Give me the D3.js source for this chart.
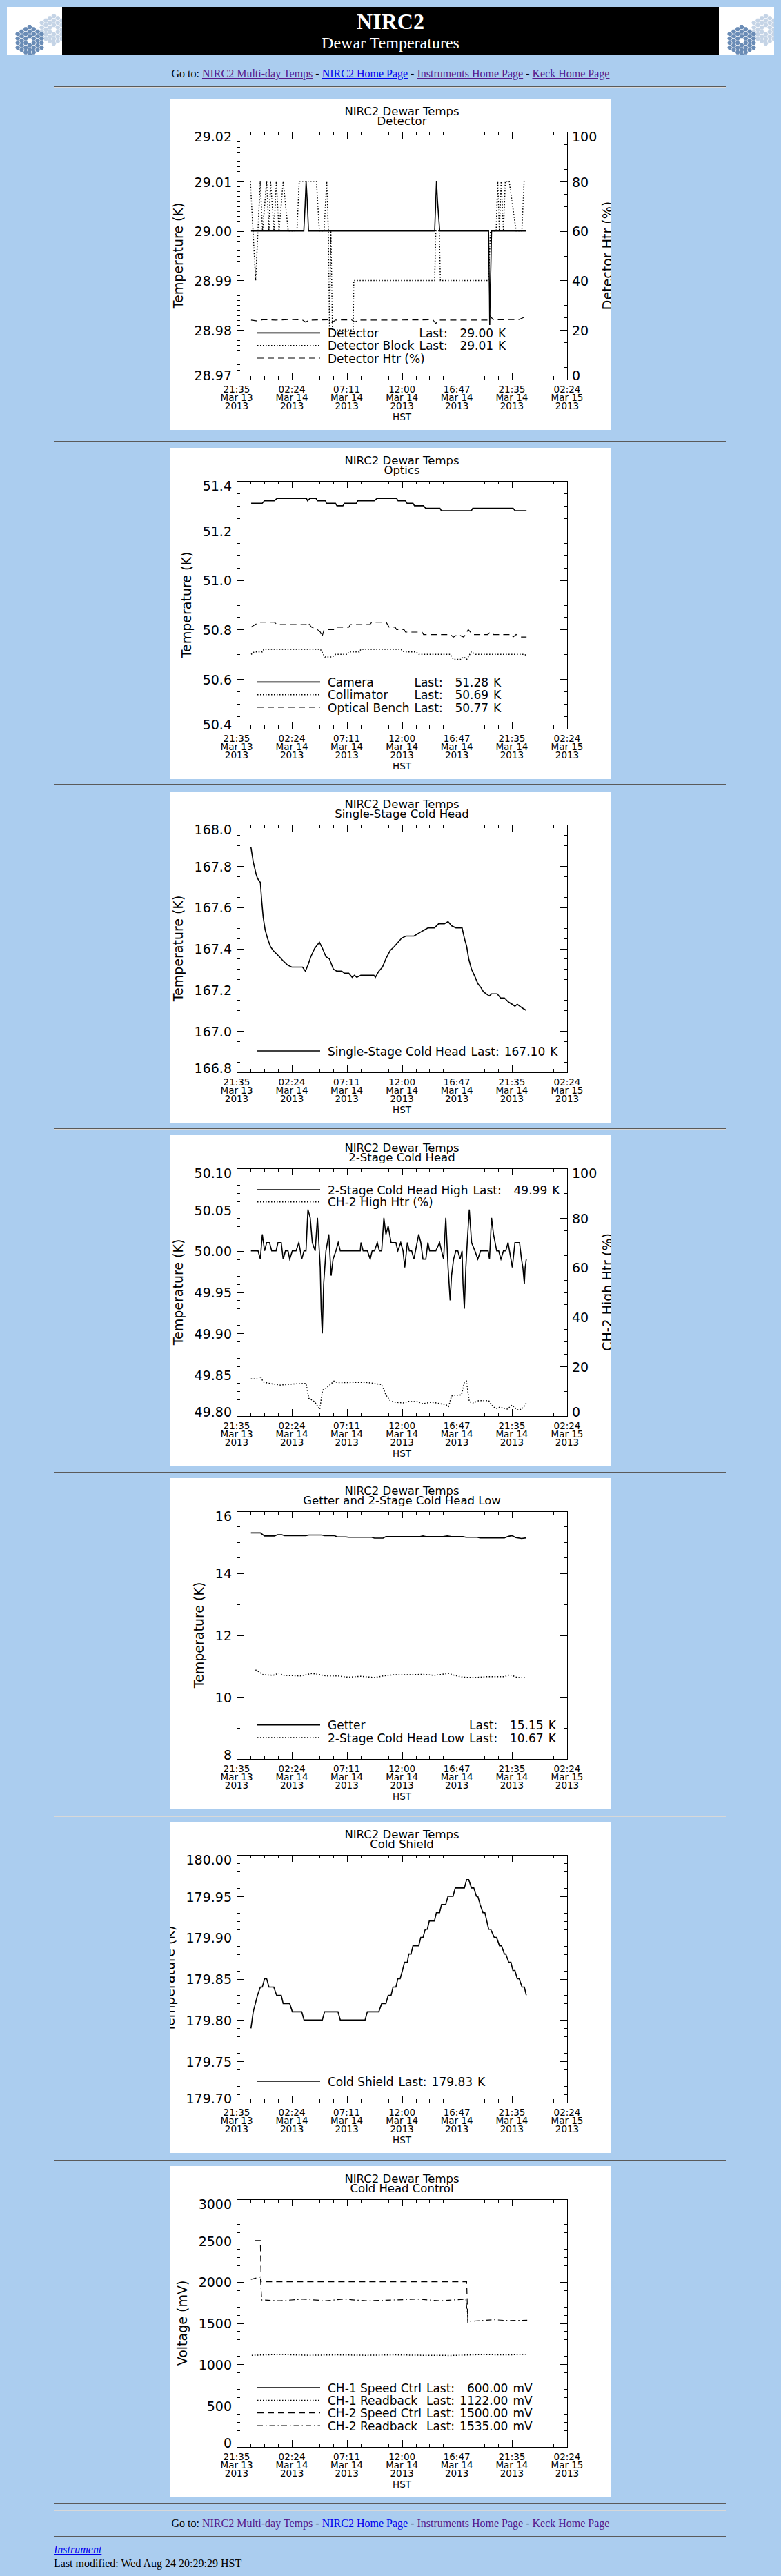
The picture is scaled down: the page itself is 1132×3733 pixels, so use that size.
<!DOCTYPE html>
<html lang="en">
<head>
<meta charset="utf-8">
<title>NIRC2 Dewar Temperatures</title>
<script src="https://cdn.jsdelivr.net/npm/d3@7"></script>
<style>
  body { margin: 0; background: #abcdef; font-family: "Liberation Serif", "Times New Roman", serif; font-size: 16px; color: #000; }
  #page { position: relative; width: 1132px; height: 3733px; overflow: hidden; }
  #page > * { position: absolute; }
  #banner { left: 10px; top: 10px; width: 1112px; height: 69px; }
  #banner .logo { position: absolute; top: 0; }
  #banner .mid { position: absolute; left: 80px; top: 0; width: 952px; height: 69px; background: #000; color: #fff; }
  #banner .t1 { position: absolute; left: 0; right: 0; top: 5px; text-align: center; font-weight: bold; font-size: 32px; line-height: 32px; }
  #banner .t2 { position: absolute; left: 0; right: 0; top: 40px; text-align: center; font-size: 24px; line-height: 24px; }
  .nav { left: 0; width: 1132px; text-align: center; line-height: 18px; }
  hr { left: 78px; width: 975px; margin: 0; height: 0; border: 0; border-top: 1px solid #5a5a5a; border-bottom: 1px solid #d8d8d8; }
  a { color: #0000ee; }
  a.seen { color: #551a8b; }
  .foot { left: 78px; line-height: 18px; }
  svg.panel text { font-family: "DejaVu Sans", "Liberation Sans", sans-serif; fill: #000; }
</style>
</head>
<body>
<div id="page">
  <div id="banner">
    <div class="logo" style="left:0"></div>
    <div class="mid"><div class="t1">NIRC2</div><div class="t2">Dewar Temperatures</div></div>
    <div class="logo" style="left:1032px"></div>
  </div>
  <div class="nav" style="top:98px">Go to: <a class="seen" href="#">NIRC2 Multi-day Temps</a> - <a href="#">NIRC2 Home Page</a> - <a class="seen" href="#">Instruments Home Page</a> - <a class="seen" href="#">Keck Home Page</a></div>
  <hr style="top:125px">
  <hr style="top:639px">
  <hr style="top:1136px">
  <hr style="top:1635px">
  <hr style="top:2133px">
  <hr style="top:2631px">
  <hr style="top:3130px">
  <hr style="top:3627px">
  <hr style="top:3637px">
  <div class="nav" style="top:3648px">Go to: <a class="seen" href="#">NIRC2 Multi-day Temps</a> - <a href="#">NIRC2 Home Page</a> - <a class="seen" href="#">Instruments Home Page</a> - <a class="seen" href="#">Keck Home Page</a></div>
  <hr style="top:3675px">
  <div class="foot" style="top:3686px"><a href="#"><i>Instrument</i></a></div>
  <div class="foot" style="top:3706px">Last modified: Wed Aug 24 20:29:29 HST</div>
</div>
<script>
// time axis labels (HST)
var tickTimes = ['21:35', '02:24', '07:11', '12:00', '16:47', '21:35', '02:24'];
var tickDays = ['Mar 13', 'Mar 14', 'Mar 14', 'Mar 14', 'Mar 14', 'Mar 14', 'Mar 15'];
var tickYears = ['2013', '2013', '2013', '2013', '2013', '2013', '2013'];

// samples are [hours after 2013-03-13 00:00 HST, value]

// Detector
var detectorT = [[22.84,29.00],[27.44,29.00],[27.55,29.005],[27.64,29.01],[27.74,29.006],[27.85,29.00],
  [38.85,29.00],[38.93,29.005],[39.01,29.01],[39.10,29.006],[39.29,29.00],
  [43.55,29.00],[43.59,28.993],[43.63,28.987],[43.65,28.981],[43.69,28.987],[43.75,28.993],[43.81,29.00],[46.85,29.00]];
var detectorBlockT = [[22.78,29.01],[23.24,28.99],[23.64,29.01],[23.84,29.00],[24.20,29.01],[24.40,29.00],[24.54,29.01],
  [24.84,29.00],[25.04,29.01],[25.28,29.00],[25.64,29.01],[26.08,29.00],[26.84,29.00],[27.04,29.01],[28.54,29.01],
  [28.80,29.00],[29.20,29.00],[29.44,29.01],[29.58,29.00],[29.68,28.98],[29.80,29.00],[29.94,28.98],[31.74,28.98],
  [31.80,28.99],[38.85,28.99],[38.95,29.00],[39.25,29.00],[39.35,28.99],[43.55,28.99],[43.71,29.00],[44.21,29.00],
  [44.35,29.01],[44.49,29.00],[44.65,29.01],[44.85,29.00],[45.01,29.01],[45.35,29.01],[45.95,29.00],[46.45,29.00],
  [46.65,29.01],[46.75,29.01]];
var detectorHtr = [[22.84,24.0],[23.4,23.6],[23.9,24.2],[25.0,24.0],[26.2,24.2],[27.3,24.1],[27.6,23.2],[27.9,24.0],
  [29.6,24.1],[29.9,23.0],[30.2,24.0],[31.6,24.1],[31.9,23.2],[32.2,24.0],[35.0,24.0],[38.7,24.1],[38.95,22.6],
  [39.2,24.0],[43.5,24.0],[43.7,25.6],[43.95,24.1],[46.2,24.2],[46.7,25.2]];
var detectorTicks = [28.97, 28.98, 28.99, 29.00, 29.01, 29.02];

// Optics
var cameraT = [[22.85,51.31],[23.82,51.31],[24.00,51.32],[24.86,51.32],[25.12,51.33],[27.67,51.33],[27.77,51.32],
  [27.98,51.33],[28.50,51.33],[28.63,51.32],[29.34,51.32],[29.41,51.31],[30.20,51.31],[30.33,51.30],[30.85,51.30],
  [30.98,51.31],[32.02,51.31],[32.15,51.32],[33.58,51.32],[33.84,51.33],[35.53,51.33],[35.66,51.32],[36.31,51.32],
  [36.44,51.31],[36.96,51.31],[37.09,51.30],[37.88,51.30],[38.06,51.29],[39.31,51.29],[39.44,51.28],[42.04,51.28],
  [42.17,51.29],[45.69,51.29],[45.87,51.28],[46.86,51.28]];
var collimatorT = [[22.85,50.70],[23.11,50.71],[23.82,50.71],[23.95,50.72],[28.89,50.72],[29.28,50.69],[29.94,50.69],
  [30.20,50.70],[31.24,50.70],[31.37,50.71],[32.28,50.71],[32.41,50.72],[35.92,50.72],[36.18,50.71],[37.22,50.71],
  [37.49,50.70],[40.22,50.70],[40.48,50.68],[41.13,50.68],[41.39,50.69],[41.65,50.68],[42.04,50.71],[42.43,50.70],
  [46.73,50.70],[46.86,50.69]];
var benchT = [[22.85,50.81],[23.17,50.82],[23.56,50.83],[24.86,50.83],[25.12,50.82],[27.59,50.82],[27.77,50.83],
  [28.11,50.81],[28.63,50.80],[28.89,50.79],[29.02,50.77],[29.21,50.80],[30.20,50.80],[30.33,50.81],[31.37,50.81],
  [31.50,50.82],[33.19,50.82],[33.37,50.83],[34.62,50.83],[34.88,50.81],[35.40,50.81],[35.53,50.80],[36.18,50.80],
  [36.31,50.79],[37.75,50.79],[37.88,50.78],[40.22,50.78],[40.48,50.77],[40.87,50.78],[41.39,50.77],[41.78,50.80],
  [42.17,50.78],[43.47,50.78],[43.73,50.79],[43.99,50.78],[45.56,50.78],[45.69,50.77],[45.95,50.78],[46.34,50.77],
  [46.86,50.77]];
var opticsTicks = [50.4, 50.6, 50.8, 51.0, 51.2, 51.4];

// Single-stage cold head
var singleStageT = [[22.83,167.89],[23.03,167.82],[23.28,167.76],[23.40,167.74],[23.65,167.72],[23.77,167.63],
  [23.90,167.55],[24.07,167.49],[24.27,167.45],[24.52,167.41],[24.77,167.39],[25.14,167.37],[25.64,167.34],
  [26.01,167.32],[26.39,167.31],[27.33,167.31],[27.58,167.29],[27.80,167.32],[28.05,167.36],[28.38,167.40],
  [28.80,167.43],[29.07,167.40],[29.37,167.36],[29.67,167.35],[30.02,167.30],[30.32,167.29],[30.74,167.29],
  [30.99,167.28],[31.36,167.28],[31.66,167.26],[31.86,167.27],[32.06,167.26],[32.41,167.27],[33.55,167.27],
  [33.68,167.26],[33.98,167.29],[34.30,167.31],[34.60,167.35],[34.97,167.39],[35.34,167.41],[35.97,167.45],
  [36.34,167.46],[37.04,167.46],[37.34,167.47],[37.63,167.48],[37.96,167.49],[38.28,167.50],[38.83,167.50],
  [39.20,167.52],[39.70,167.52],[40.02,167.53],[40.32,167.51],[40.70,167.50],[41.24,167.50],[41.44,167.45],
  [41.64,167.41],[41.82,167.35],[42.06,167.30],[42.39,167.26],[42.61,167.23],[42.89,167.21],[43.11,167.19],
  [43.36,167.18],[43.61,167.17],[43.81,167.18],[44.30,167.18],[44.60,167.16],[44.93,167.16],[45.30,167.14],
  [45.60,167.13],[45.85,167.12],[46.05,167.13],[46.29,167.12],[46.54,167.11],[46.84,167.10]];
var singleStageTicks = [166.8, 167.0, 167.2, 167.4, 167.6, 167.8, 168.0];

// 2-stage cold head
var twoStageHighT = [[22.83,50.00],[23.45,50.00],[23.65,49.99],[23.82,50.02],[24.02,50.00],[24.20,50.01],[24.45,50.01],
  [24.64,50.00],[25.02,50.00],[25.19,50.01],[25.47,50.01],[25.64,49.99],[25.84,50.00],[26.06,50.00],[26.21,49.99],
  [26.44,50.00],[26.76,50.00],[27.01,50.01],[27.26,49.99],[27.46,50.00],[27.63,50.00],[27.80,50.05],[28.00,50.04],
  [28.18,50.01],[28.43,50.00],[28.63,50.04],[28.75,50.01],[28.87,49.98],[28.95,49.93],[29.05,49.90],[29.17,49.96],
  [29.37,50.00],[29.50,50.01],[29.62,50.02],[29.82,49.97],[29.99,49.99],[30.24,50.00],[30.44,50.01],[30.62,50.00],
  [32.36,50.00],[32.43,50.01],[32.61,50.00],[32.98,50.00],[33.23,49.99],[33.40,50.00],[33.60,50.00],[33.85,50.01],
  [34.03,50.00],[34.23,50.00],[34.42,50.04],[34.60,50.02],[34.80,50.03],[35.05,50.01],[35.47,50.01],[35.64,50.00],
  [35.89,50.01],[36.09,50.00],[36.24,49.98],[36.47,50.01],[36.64,50.00],[36.84,50.00],[37.04,49.99],[37.46,50.02],
  [37.64,50.01],[37.83,49.99],[38.08,49.99],[38.26,50.01],[38.41,50.00],[38.95,50.00],[39.28,50.01],[39.45,50.00],
  [39.63,49.99],[39.82,50.04],[40.02,49.98],[40.20,49.94],[40.32,49.97],[40.50,49.99],[40.70,50.00],[40.87,50.00],
  [41.07,49.99],[41.24,50.00],[41.32,49.96],[41.44,49.93],[41.57,49.98],[41.69,50.01],[41.87,50.05],[42.07,50.01],
  [42.36,50.00],[42.61,49.99],[42.86,50.00],[43.51,50.00],[43.63,49.99],[43.81,50.04],[43.98,50.02],[44.26,50.00],
  [44.43,50.00],[44.63,49.99],[44.85,50.00],[45.05,50.00],[45.25,50.01],[45.50,49.99],[45.62,49.98],[45.85,50.01],
  [46.25,50.01],[46.42,49.99],[46.54,49.98],[46.67,49.96],[46.74,49.98],[46.84,49.99]];
var ch2HighHtr = [[22.83,15.0],[23.35,15.0],[23.65,16.0],[23.90,13.8],[24.40,13.2],[25.39,12.5],[26.39,12.9],
  [27.63,13.2],[27.88,7.1],[28.38,5.8],[28.83,2.7],[29.07,10.4],[29.37,11.3],[29.75,12.7],[30.07,14.1],[30.37,13.5],
  [32.86,13.6],[34.23,12.7],[34.60,8.5],[34.97,6.2],[35.34,5.6],[36.09,5.3],[36.59,5.9],[37.34,5.8],[37.83,5.0],
  [38.58,5.6],[39.33,5.0],[39.82,4.6],[40.07,3.9],[40.32,8.1],[40.57,8.4],[41.19,8.5],[41.44,13.6],[41.62,14.1],
  [41.87,5.8],[42.19,5.3],[42.69,6.2],[43.56,6.2],[43.93,3.9],[44.18,3.0],[44.55,3.6],[45.18,2.8],[45.60,4.4],
  [46.05,2.5],[46.29,2.5],[46.59,3.4],[46.84,5.3]];
var twoStageTicks = [49.80, 49.85, 49.90, 49.95, 50.00, 50.05, 50.10];

// Getter and 2-stage cold head low
var getterT = [[22.83,15.30],[23.65,15.30],[24.02,15.20],[24.89,15.20],[25.14,15.24],[25.52,15.24],[25.76,15.21],
  [27.63,15.21],[27.88,15.23],[29.00,15.23],[29.25,15.21],[30.12,15.21],[30.37,15.17],[31.11,15.17],[31.36,15.16],
  [33.35,15.16],[33.60,15.13],[34.35,15.13],[34.60,15.18],[37.58,15.18],[37.83,15.20],[38.08,15.18],[39.58,15.18],
  [39.95,15.20],[40.32,15.18],[41.32,15.18],[41.57,15.16],[42.56,15.16],[42.81,15.14],[44.93,15.14],[45.30,15.19],
  [45.60,15.21],[45.92,15.15],[46.42,15.12],[46.84,15.14]];
var twoStageLowT = [[23.23,10.88],[23.40,10.84],[23.90,10.72],[24.77,10.70],[25.27,10.77],[25.64,10.70],[27.13,10.68],
  [28.13,10.76],[28.75,10.73],[29.37,10.68],[30.37,10.68],[31.36,10.64],[32.36,10.67],[33.60,10.63],[34.35,10.68],
  [35.34,10.72],[36.59,10.72],[37.83,10.73],[38.83,10.70],[40.07,10.76],[40.57,10.70],[41.32,10.64],[42.31,10.63],
  [43.56,10.66],[44.93,10.66],[45.42,10.72],[46.05,10.63],[46.84,10.62]];
var getterTicks = [8, 10, 12, 14, 16];

// Cold shield
var coldShieldT = [[22.83,179.79],[23.03,179.81],[23.40,179.83],[23.65,179.84],[23.82,179.84],[24.02,179.85],
  [24.20,179.85],[24.40,179.84],[24.82,179.84],[25.07,179.83],[25.47,179.83],[25.64,179.82],[26.21,179.82],
  [26.44,179.81],[27.26,179.81],[27.46,179.80],[29.05,179.80],[29.25,179.81],[30.42,179.81],[30.62,179.80],
  [32.78,179.80],[32.98,179.81],[33.98,179.81],[34.23,179.82],[34.60,179.82],[34.80,179.83],[35.05,179.83],
  [35.22,179.84],[35.47,179.84],[35.64,179.85],[35.84,179.85],[36.04,179.86],[36.22,179.87],[36.47,179.87],
  [36.59,179.88],[36.79,179.88],[36.96,179.89],[37.46,179.89],[37.64,179.90],[37.83,179.90],[38.03,179.91],
  [38.21,179.91],[38.38,179.92],[38.83,179.92],[39.00,179.93],[39.28,179.93],[39.45,179.94],[39.82,179.94],
  [40.02,179.95],[40.45,179.95],[40.65,179.96],[41.44,179.96],[41.64,179.97],[41.82,179.97],[42.06,179.96],
  [42.26,179.96],[42.49,179.95],[42.61,179.95],[42.81,179.94],[43.06,179.93],[43.23,179.93],[43.56,179.91],
  [43.73,179.91],[44.05,179.90],[44.25,179.90],[44.50,179.89],[44.68,179.89],[44.93,179.88],[45.05,179.88],
  [45.30,179.87],[45.50,179.87],[45.67,179.86],[45.85,179.86],[46.05,179.85],[46.22,179.85],[46.47,179.84],
  [46.67,179.84],[46.84,179.83]];
var coldShieldTicks = [179.70, 179.75, 179.80, 179.85, 179.90, 179.95, 180.00];

// Cold head control (mV)
var ch1SpeedCtrl = [];
var ch1Readback = [[22.90,1110],[25.39,1120],[27.88,1110],[30.37,1115],[32.86,1110],[35.34,1115],[37.83,1110],
  [40.32,1108],[42.81,1118],[45.30,1115],[46.92,1122]];
var ch2SpeedCtrl = [[23.15,2500],[23.65,2500],[23.72,2000],[41.64,2000],[41.74,1500],[46.92,1500]];
var ch2Readback = [[22.83,2030],[23.40,2050],[23.65,2060],[23.77,1780],[25.39,1770],[27.38,1790],[29.37,1770],
  [30.86,1790],[32.86,1770],[35.34,1780],[37.34,1790],[39.33,1770],[41.57,1790],[41.77,1520],[42.81,1530],
  [44.06,1540],[45.30,1530],[46.92,1535]];
var controlTicks = [0, 500, 1000, 1500, 2000, 2500, 3000];

var htrTicks = [0, 20, 40, 60, 80, 100];

var panelTops = [143, 649, 1147, 1645, 2142, 2640, 3139];

var lineStyles = {
  solid: {dash: null, width: 1.6},
  dot: {dash: '1.5 2.5', width: 1.5},
  dash: {dash: '9 6', width: 1.2},
  dashdot: {dash: '8 4 1.5 4', width: 1.2}
};

var charts = [
  {sub: 'Detector', yDomain: [28.97, 29.02], yTicks: detectorTicks, yFmt: '.2f', yMinor: 10, yTitle: 'Temperature (K)',
   y2: {domain: [0, 100], ticks: htrTicks, minor: 4, title: 'Detector Htr (%)'},
   series: [
     {data: detectorT, style: 'solid', label: 'Detector', last: '29.00', unit: 'K'},
     {data: detectorBlockT, style: 'dot', label: 'Detector Block', last: '29.01', unit: 'K'},
     {data: detectorHtr, style: 'dash', label: 'Detector Htr (%)', axis2: true}]},
  {sub: 'Optics', yDomain: [50.4, 51.4], yTicks: opticsTicks, yFmt: '.1f', yMinor: 4, yTitle: 'Temperature (K)',
   series: [
     {data: cameraT, style: 'solid', label: 'Camera', last: '51.28', unit: 'K'},
     {data: collimatorT, style: 'dot', label: 'Collimator', last: '50.69', unit: 'K'},
     {data: benchT, style: 'dash', label: 'Optical Bench', last: '50.77', unit: 'K'}]},
  {sub: 'Single-Stage Cold Head', yDomain: [166.8, 168.0], yTicks: singleStageTicks, yFmt: '.1f', yMinor: 4, yTitle: 'Temperature (K)',
   series: [{data: singleStageT, style: 'solid', label: 'Single-Stage Cold Head', last: '167.10', unit: 'K'}]},
  {sub: '2-Stage Cold Head', yDomain: [49.80, 50.10], yTicks: twoStageTicks, yFmt: '.2f', yMinor: 5, yTitle: 'Temperature (K)',
   y2: {domain: [0, 100], ticks: htrTicks, minor: 4, title: 'CH-2 High Htr (%)'}, legendTop: true,
   series: [
     {data: twoStageHighT, style: 'solid', label: '2-Stage Cold Head High', last: '49.99', unit: 'K'},
     {data: ch2HighHtr, style: 'dot', label: 'CH-2 High Htr (%)', axis2: true}]},
  {sub: 'Getter and 2-Stage Cold Head Low', yDomain: [8, 16], yTicks: getterTicks, yFmt: 'd', yMinor: 4, yTitle: 'Temperature (K)',
   series: [
     {data: getterT, style: 'solid', label: 'Getter', last: '15.15', unit: 'K'},
     {data: twoStageLowT, style: 'dot', label: '2-Stage Cold Head Low', last: '10.67', unit: 'K'}]},
  {sub: 'Cold Shield', yDomain: [179.70, 180.00], yTicks: coldShieldTicks, yFmt: '.2f', yMinor: 5, yTitle: 'Temperature (K)',
   series: [{data: coldShieldT, style: 'solid', label: 'Cold Shield', last: '179.83', unit: 'K'}]},
  {sub: 'Cold Head Control', yDomain: [0, 3000], yTicks: controlTicks, yFmt: 'd', yMinor: 5, yTitle: 'Voltage (mV)',
   series: [
     {data: ch1SpeedCtrl, style: 'solid', label: 'CH-1 Speed Ctrl', last: '600.00', unit: 'mV'},
     {data: ch1Readback, style: 'dot', label: 'CH-1 Readback', last: '1122.00', unit: 'mV'},
     {data: ch2SpeedCtrl, style: 'dash', label: 'CH-2 Speed Ctrl', last: '1500.00', unit: 'mV'},
     {data: ch2Readback, style: 'dashdot', label: 'CH-2 Readback', last: '1535.00', unit: 'mV'}]}
];

var hourDate = function (h) { return new Date(Date.UTC(2013, 2, 13) + h * 3600e3); };
var tickDates = tickTimes.map(function (t, i) {
  return d3.utcParse('%b %d %Y %H:%M')(tickDays[i] + ' ' + tickYears[i] + ' ' + t);
});

// minor ticks between each pair of majors
function minors(major, n) {
  var out = [];
  for (var i = 0; i < major.length - 1; i++) {
    var a = +major[i], b = +major[i + 1];
    for (var k = 1; k < n; k++) out.push(a + (b - a) * k / n);
  }
  return out;
}

function tickOnly(axis, values, size) {
  return axis.tickValues(values).tickSize(size).tickFormat('');
}

function styleAxis(sel) {
  sel.select('.domain').remove();
  sel.attr('font-family', null).attr('font-size', null);
  sel.selectAll('line').attr('shape-rendering', 'crispEdges');
}

// IDL puts the end labels inside the axis range
function alignEnds(sel, domain) {
  sel.selectAll('text').attr('dy', function (d) {
    if (Math.abs(d - domain[1]) < 1e-9) return '0.73em';
    if (Math.abs(d - domain[0]) < 1e-9) return '0.02em';
    return '0.38em';
  }).attr('font-size', 19);
}

function drawLogo(el) {
  var s = d3.select(el).append('svg').attr('width', 80).attr('height', 69).style('display', 'block');
  s.append('rect').attr('width', 80).attr('height', 69).attr('fill', '#fff');
  var r = 3.5, gap = 1.1;
  var hex = d3.range(6).map(function (k) { return [r * Math.cos(k * Math.PI / 3), r * Math.sin(k * Math.PI / 3)]; });
  var cells = [];
  for (var q = -3; q <= 3; q++) for (var rr = -3; rr <= 3; rr++) {
    var dd = Math.max(Math.abs(q), Math.abs(rr), Math.abs(q + rr));
    if (dd >= 1 && dd <= 3) cells.push([q, rr]);
  }
  [[68, 33, '#c5d4e6'], [33, 49, '#6a8cb6']].forEach(function (m) {
    s.append('g').selectAll('path').data(cells).join('path')
      .attr('d', function (c) {
        var cx = m[0] + r * 1.5 * c[0] * gap, cy = m[1] + r * Math.sqrt(3) * (c[1] + c[0] / 2) * gap;
        return 'M' + hex.map(function (p) { return [cx + p[0], cy + p[1]]; }).join('L') + 'Z';
      })
      .attr('fill', m[2]);
  });
}

function drawLegend(svg, series, top) {
  var n = series.length;
  var rowY = function (i) { return top ? 79 + i * 17.7 : 376 - (n - 1 - i) * 18.3; };
  var leg = svg.append('g').attr('font-size', 17);
  var rows = leg.selectAll('g').data(series).join('g')
    .attr('transform', function (d, i) { return 'translate(0,' + rowY(i) + ')'; });
  rows.append('line').attr('x1', 127).attr('x2', 218).attr('stroke', '#000')
    .attr('stroke-width', function (d) { return lineStyles[d.style].width; })
    .attr('stroke-dasharray', function (d) { return lineStyles[d.style].dash; });
  var gap = 7, nameW = 0;
  rows.append('text').attr('x', 229).attr('y', 6.5).text(function (d) { return d.label; })
    .each(function (d) { if (d.last) nameW = Math.max(nameW, this.getComputedTextLength()); });
  var probe = leg.append('text').text('Last:');
  var lastW = probe.node().getComputedTextLength();
  probe.text('000.00');
  var numW = probe.node().getComputedTextLength();
  series.forEach(function (d) {
    if (d.last) { probe.text(d.last); numW = Math.max(numW, probe.node().getComputedTextLength()); }
  });
  probe.remove();
  var lastX = 229 + nameW + gap, numRight = lastX + lastW + gap + numW;
  var withLast = rows.filter(function (d) { return d.last; });
  withLast.append('text').attr('x', lastX).attr('y', 6.5).text('Last:');
  withLast.append('text').attr('x', numRight).attr('y', 6.5).attr('text-anchor', 'end').text(function (d) { return d.last; });
  withLast.append('text').attr('x', numRight + gap).attr('y', 6.5).text(function (d) { return d.unit; });
}

function drawPanel(cfg, top) {
  var W = 640, H = 480, m = {l: 97, t: 48, r: 64, b: 73};
  var w = W - m.l - m.r, h = H - m.t - m.b;
  var svg = d3.select('#page').append('svg').attr('class', 'panel')
    .attr('width', W).attr('height', H)
    .style('left', '246px').style('top', top + 'px');
  svg.append('rect').attr('width', W).attr('height', H).attr('fill', '#fff');

  var x = d3.scaleUtc().domain([tickDates[0], tickDates[tickDates.length - 1]]).range([0, w]);
  var y = d3.scaleLinear().domain(cfg.yDomain).range([h, 0]);
  var y2 = cfg.y2 ? d3.scaleLinear().domain(cfg.y2.domain).range([h, 0]) : null;
  var g = svg.append('g').attr('transform', 'translate(' + m.l + ',' + m.t + ')');

  // title
  g.append('text').attr('x', w / 2).attr('y', -24.5).attr('text-anchor', 'middle').attr('font-size', 16.5).text('NIRC2 Dewar Temps');
  g.append('text').attr('x', w / 2).attr('y', -10.5).attr('text-anchor', 'middle').attr('font-size', 16.5).text(cfg.sub);

  // x axes (bottom and top), ticks inward
  var xMinor = minors(tickDates, 4);
  g.append('g').attr('transform', 'translate(0,' + h + ')').call(tickOnly(d3.axisBottom(x), tickDates, -10)).call(styleAxis);
  g.append('g').attr('transform', 'translate(0,' + h + ')').call(tickOnly(d3.axisBottom(x), xMinor, -5)).call(styleAxis);
  g.append('g').call(tickOnly(d3.axisTop(x), tickDates, -10)).call(styleAxis);
  g.append('g').call(tickOnly(d3.axisTop(x), xMinor, -5)).call(styleAxis);

  g.selectAll('text.xlab').data(tickDates).join('text').attr('class', 'xlab')
    .attr('y', h + 19).attr('text-anchor', 'middle').attr('font-size', 13.5)
    .each(function (d, i) {
      var t = d3.select(this);
      [tickTimes[i], tickDays[i], tickYears[i]].forEach(function (s, j) {
        t.append('tspan').attr('x', x(d)).attr('dy', j ? 12 : 0).text(s);
      });
    });
  g.append('text').attr('x', w / 2).attr('y', h + 59).attr('text-anchor', 'middle').attr('font-size', 13.5).text('HST');

  // left axis
  var yMinor = minors(cfg.yTicks, cfg.yMinor);
  var left = g.append('g').call(d3.axisLeft(y).tickValues(cfg.yTicks).tickSize(-10).tickPadding(7).tickFormat(d3.format(cfg.yFmt)))
    .call(styleAxis).call(alignEnds, cfg.yDomain);
  g.append('g').call(tickOnly(d3.axisLeft(y), yMinor, -5)).call(styleAxis);
  var lb = left.node().getBBox();
  g.append('text').attr('transform', 'translate(' + (lb.x - 17) + ',' + (h / 2) + ') rotate(-90)')
    .attr('text-anchor', 'middle').attr('font-size', 19).text(cfg.yTitle);

  // right axis: second scale or a mirror of the left one
  if (y2) {
    var right = g.append('g').attr('transform', 'translate(' + w + ',0)')
      .call(d3.axisRight(y2).tickValues(cfg.y2.ticks).tickSize(-10).tickPadding(7).tickFormat(d3.format('d')))
      .call(styleAxis).call(alignEnds, cfg.y2.domain);
    g.append('g').attr('transform', 'translate(' + w + ',0)').call(tickOnly(d3.axisRight(y2), minors(cfg.y2.ticks, cfg.y2.minor), -5)).call(styleAxis);
    var rb = right.node().getBBox();
    g.append('text').attr('transform', 'translate(' + (w + rb.x + rb.width + 22) + ',' + (h / 2) + ') rotate(-90)')
      .attr('text-anchor', 'middle').attr('font-size', 19).text(cfg.y2.title);
  } else {
    g.append('g').attr('transform', 'translate(' + w + ',0)').call(tickOnly(d3.axisRight(y), cfg.yTicks, -10)).call(styleAxis);
    g.append('g').attr('transform', 'translate(' + w + ',0)').call(tickOnly(d3.axisRight(y), yMinor, -5)).call(styleAxis);
  }

  g.append('rect').attr('width', w).attr('height', h).attr('fill', 'none').attr('stroke', '#000').attr('shape-rendering', 'crispEdges');

  // traces
  cfg.series.forEach(function (s) {
    var ys = s.axis2 ? y2 : y;
    var line = d3.line().x(function (d) { return x(hourDate(d[0])); }).y(function (d) { return ys(d[1]); });
    g.append('path').datum(s.data).attr('d', line).attr('fill', 'none').attr('stroke', '#000')
      .attr('stroke-width', lineStyles[s.style].width).attr('stroke-dasharray', lineStyles[s.style].dash);
  });

  drawLegend(svg, cfg.series, cfg.legendTop);
}

d3.selectAll('#banner .logo').each(function () { drawLogo(this); });
charts.forEach(function (c, i) { drawPanel(c, panelTops[i]); });
</script>
</body>
</html>
